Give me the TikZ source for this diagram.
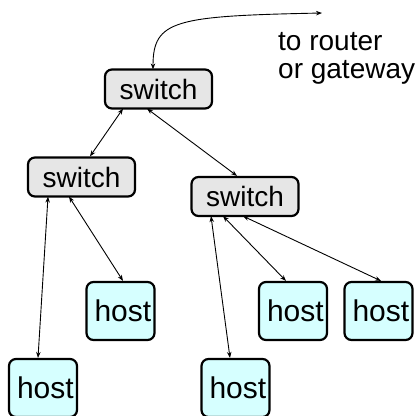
\documentclass[tikz,border=0pt]{standalone}
\usepackage{fontspec}
\setmainfont{Liberation Sans}
\usetikzlibrary{calc,arrows.meta}
\definecolor{swfill}{HTML}{E6E6E6}
\definecolor{hostfill}{HTML}{D6FFFF}
\begin{document}
\begin{tikzpicture}[x=1pt,y=-1pt,
  swbox/.style={draw=black,line width=2.2pt,rounded corners=7pt,fill=swfill,
    minimum width=107pt,minimum height=39pt,inner sep=0pt,
    font=\fontsize{28}{28}\selectfont},
  hostbox/.style={draw=black,line width=2.2pt,rounded corners=7pt,fill=hostfill,
    minimum width=68pt,minimum height=58pt,inner sep=0pt,
    font=\fontsize{30}{30}\selectfont},
  link/.style={line width=0.9pt,{Stealth[length=6pt,width=4.5pt]}-{Stealth[length=6pt,width=4.5pt]}}]
\useasboundingbox (0,0) rectangle (420,415);
\node[swbox] (sw0) at (158.5,89) {switch};
\node[swbox] (sw1) at (81.5,177) {switch};
\node[swbox] (sw2) at (245,196.5) {switch};
\node[hostbox] (h1) at (120.5,311) {\makebox[52pt][l]{host}};
\node[hostbox] (h2) at (293,311) {\makebox[52pt][l]{host}};
\node[hostbox] (h3) at (378.5,311) {\makebox[52pt][l]{host}};
\node[hostbox] (h4) at (43,388) {\makebox[52pt][l]{host}};
\node[hostbox] (h5) at (235.5,388) {\makebox[52pt][l]{host}};
\coordinate (gw) at (322,13);
\node[anchor=west,align=left,inner sep=0pt,font=\fontsize{28}{28}\selectfont] (lbl) at (278,58) {to router\\or gateway};
\draw[link] ($(sw0.north)+(-5.5,1)$) .. controls (153,20) and (175,16) .. (gw);
\draw[link] ($(sw0.south)+(-35.5,-1)$) -- ($(sw1.north)+(8.5,0)$);
\draw[link] ($(sw0.south)+(-11.5,-1)$) -- ($(sw2.north)+(-8,0)$);
\draw[link] ($(sw1.south)+(-33.5,-1)$) -- ($(h4.north)+(-5,0)$);
\draw[link] ($(sw1.south)+(-12.5,-1)$) -- ($(h1.north)+(2.5,0)$);
\draw[link] ($(sw2.south)+(-34,-1)$) -- ($(h5.north)+(-5.5,0)$);
\draw[link] ($(sw2.south)+(-22,-1)$) -- ($(h2.north)+(-7,0)$);
\draw[link] ($(sw2.south)+(-2,-1)$) -- ($(h3.north)+(2.5,0)$);
\end{tikzpicture}
\end{document}
